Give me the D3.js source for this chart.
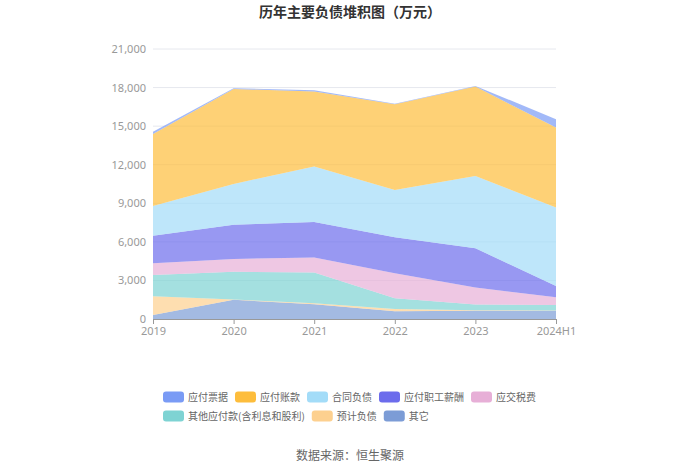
<!DOCTYPE html>
<html><head><meta charset="utf-8">
<script src="https://cdn.jsdelivr.net/npm/d3@7"></script>
<style>body{margin:0;background:#fff;font-family:"Noto Sans CJK SC","Noto Sans",sans-serif;}</style>
</head><body><svg id="c" width="700" height="473"></svg>
<script>
const years = ['2019','2020','2021','2022','2023','2024H1'];
const seriesNames = ['应付票据','应付账款','合同负债','应付职工薪酬','应交税费','其他应付款(含利息和股利)','预计负债','其它'];
const notesPayable   = [180, 50, 100, 50, 50, 650];
const accountsPayable= [5600, 7390, 5830, 6660, 6950, 6220];
const contractLiab   = [2310, 3160, 4330, 3680, 5630, 6100];
const payroll        = [2150, 2670, 2750, 2800, 3050, 880];
const taxes          = [910, 990, 1170, 1950, 1330, 600];
const otherPayables  = [1650, 2170, 2400, 830, 440, 420];
const provisions     = [1450, 20, 80, 180, 30, 20];
const others         = [320, 1490, 1140, 600, 650, 650];
const yTicks = [0,3000,6000,9000,12000,15000,18000,21000];
const colors = ['#7a9bf5','#fdbd3c','#a3dcf8','#6c6cec','#e7afd7','#7ed3d3','#fdd08f','#7c9cd6'];

const valuesBySeries = [notesPayable,accountsPayable,contractLiab,payroll,taxes,otherPayables,provisions,others];
// stack from bottom: others first
const stackOrder = [7,6,5,4,3,2,1,0];
const rows = years.map((y,i)=>{const o={year:y}; seriesNames.forEach((n,k)=>o[n]=valuesBySeries[k][i]); return o;});
const stack = d3.stack().keys(stackOrder.map(k=>seriesNames[k]))(rows);

const svg = d3.select('#c');
const x = d3.scalePoint().domain(years).range([153,556]);
const y = d3.scaleLinear().domain([0,21000]).range([319,49]);

// grid
svg.append('g').selectAll('line').data(yTicks.slice(1)).join('line')
  .attr('x1',153).attr('x2',556).attr('y1',d=>y(d)).attr('y2',d=>y(d))
  .attr('stroke','#e6e8ee').attr('stroke-width',1);

const area = d3.area().x(d=>x(d.data.year)).y0(d=>y(d[0])).y1(d=>y(d[1]));
svg.append('g').selectAll('path').data(stack).join('path')
  .attr('d',area)
  .attr('fill',d=>colors[seriesNames.indexOf(d.key)])
  .attr('fill-opacity',0.7);

// y axis
const yAxis = d3.axisLeft(y).tickValues(yTicks).tickFormat(d3.format(',')).tickSize(0).tickPadding(7);
const gy = svg.append('g').attr('transform','translate(153,0)').call(yAxis);
gy.select('.domain').remove();
gy.selectAll('text').attr('fill','#999').attr('font-size',11).attr('font-family','"Noto Sans",sans-serif');

// x axis
const xAxis = d3.axisBottom(x).tickSize(5).tickPadding(3);
const gx = svg.append('g').attr('transform','translate(0,319)').call(xAxis);
gx.select('.domain').attr('stroke','#999').attr('d','M153,0.5H556');
gx.selectAll('line').attr('stroke','#999');
gx.selectAll('text').attr('fill','#999').attr('font-size',11).attr('font-family','"Noto Sans",sans-serif');

// title
svg.append('text').attr('x',350).attr('y',17).attr('text-anchor','middle')
  .attr('font-size',14).attr('font-weight','bold').attr('fill','#333').text('历年主要负债堆积图（万元）');

// legend
const legendRows = [[0,1,2,3,4],[5,6,7]];
legendRows.forEach((row,ri)=>{
  let cx = 163;
  const cy = 397 + ri*19;
  row.forEach(k=>{
    const g = svg.append('g');
    g.append('rect').attr('x',cx).attr('y',cy-5.5).attr('width',21).attr('height',11).attr('rx',3).attr('fill',colors[k]);
    const t = g.append('text').attr('x',cx+25).attr('y',cy+3.5).attr('font-size',10).attr('fill','#666').text(seriesNames[k]);
    const w = t.node().getComputedTextLength();
    cx += 25 + w + 7;
  });
});

svg.append('text').attr('x',350).attr('y',460).attr('text-anchor','middle')
  .attr('font-size',12).attr('fill','#666').text('数据来源：恒生聚源');
</script></body></html>
